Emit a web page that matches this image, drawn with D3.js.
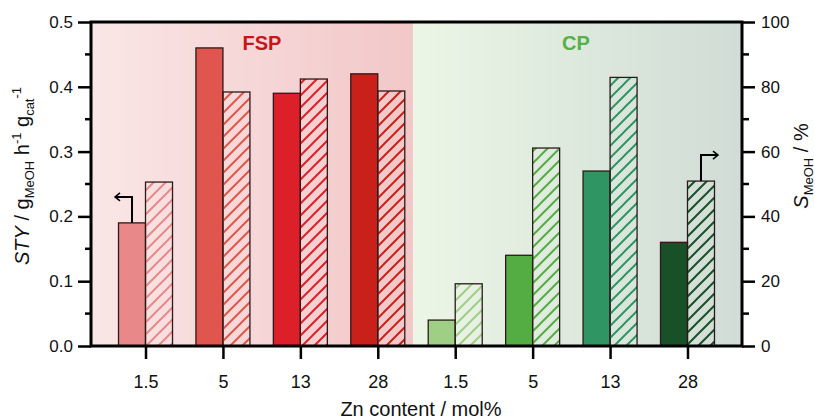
<!DOCTYPE html>
<html>
<head>
<meta charset="utf-8">
<script src="https://cdn.jsdelivr.net/npm/d3@7"></script>
<style>
html,body{margin:0;padding:0;background:#fff;}
svg{display:block;font-family:"Liberation Sans",Arial,sans-serif;}
</style>
</head>
<body>
<svg id="chart" width="815" height="419"></svg>
<script>
// ---- data ----
const znContent = ["1.5", "5", "13", "28"];
const methods = ["FSP", "CP"];
const styFSP = [0.19, 0.46, 0.39, 0.42];
const styCP = [0.04, 0.14, 0.27, 0.16];
const selFSP = [50.6, 78.4, 82.4, 78.7];
const selCP = [19.2, 61.1, 82.9, 50.9];
const colorsFSP = ["#e88888", "#e0554d", "#dd1f29", "#c92119"];
const colorsCP = ["#9ecf85", "#53ad42", "#2f9663", "#185128"];
const leftTicks = [0, 0.1, 0.2, 0.3, 0.4, 0.5];
const rightTicks = [0, 20, 40, 60, 80, 100];

// ---- layout ----
const L = 91, R = 742, T = 22, B = 346;
const svg = d3.select("#chart");

const cats = [];
methods.forEach(m => znContent.forEach((z, i) => cats.push({
  key: m + "-" + z, method: m, zn: z, i,
  sty: m === "FSP" ? styFSP[i] : styCP[i],
  sel: m === "FSP" ? selFSP[i] : selCP[i],
  color: m === "FSP" ? colorsFSP[i] : colorsCP[i]
})));

const x = d3.scalePoint().domain(cats.map(d => d.key)).range([L, R]).padding(0.704);
const yL = d3.scaleLinear().domain([0, 0.5]).range([B, T]);
const yR = d3.scaleLinear().domain([0, 100]).range([B, T]);
const bw = 27;

const defs = svg.append("defs");
const gF = defs.append("linearGradient").attr("id", "bgF").attr("x1", "0").attr("x2", "1").attr("y1", "0").attr("y2", "0");
gF.append("stop").attr("offset", "0").attr("stop-color", "#fae6e6");
gF.append("stop").attr("offset", "1").attr("stop-color", "#f2c7c8");
const gC = defs.append("linearGradient").attr("id", "bgC").attr("x1", "0").attr("x2", "1").attr("y1", "0").attr("y2", "0");
gC.append("stop").attr("offset", "0").attr("stop-color", "#ebf6e6");
gC.append("stop").attr("offset", "1").attr("stop-color", "#d0dcd5");

cats.forEach((d, k) => {
  const p = defs.append("pattern").attr("id", "hatch" + k)
    .attr("patternUnits", "userSpaceOnUse").attr("width", 12).attr("height", 12);
  p.append("path").attr("d", "M-3,3 L3,-3 M0,12 L12,0 M9,15 L15,9")
    .attr("stroke", d.color).attr("stroke-width", 2).attr("fill", "none");
});

const split = 413;
svg.append("rect").attr("x", L).attr("y", T).attr("width", split - L).attr("height", B - T).attr("fill", "url(#bgF)");
svg.append("rect").attr("x", split).attr("y", T).attr("width", R - split).attr("height", B - T).attr("fill", "url(#bgC)");

// bars
const bars = svg.append("g");
bars.selectAll("rect.sty").data(cats).join("rect").attr("class", "sty")
  .attr("x", d => x(d.key) - bw).attr("width", bw)
  .attr("y", d => yL(d.sty)).attr("height", d => B - yL(d.sty))
  .attr("fill", d => d.color).attr("stroke", "#2a1a1a").attr("stroke-width", 1.3);
bars.selectAll("rect.sel").data(cats).join("rect").attr("class", "sel")
  .attr("x", d => x(d.key)).attr("width", bw)
  .attr("y", d => yR(d.sel)).attr("height", d => B - yR(d.sel))
  .attr("fill", (d, k) => "url(#hatch" + k + ")").attr("stroke", "#2a1a1a").attr("stroke-width", 1.3);

// arrows
function arrow(x0, y0, dir) {
  const yTop = y0 - 26, xEnd = x0 + dir * 17;
  svg.append("path").attr("d", `M${x0},${y0} V${yTop} H${xEnd}`)
    .attr("fill", "none").attr("stroke", "#000").attr("stroke-width", 2);
  svg.append("path").attr("d", `M${xEnd - dir * 5},${yTop - 4} L${xEnd},${yTop} L${xEnd - dir * 5},${yTop + 4}`)
    .attr("fill", "none").attr("stroke", "#000").attr("stroke-width", 1.5);
}
const a1 = cats[0];
arrow(x(a1.key) - bw / 2, yL(a1.sty), -1);
const a2 = cats[7];
arrow(x(a2.key) + bw / 2, yR(a2.sel), 1);

// group labels
svg.append("text").attr("x", 262).attr("y", 50).attr("text-anchor", "middle")
  .attr("font-size", 20).attr("font-weight", "bold").attr("fill", "#c8151c").text("FSP");
svg.append("text").attr("x", 576).attr("y", 50).attr("text-anchor", "middle")
  .attr("font-size", 20).attr("font-weight", "bold").attr("fill", "#57b049").text("CP");

// axes
const axL = d3.axisLeft(yL).tickValues(leftTicks).tickFormat(d3.format(".1f")).tickSize(13).tickPadding(5);
const gl = svg.append("g").attr("transform", `translate(${L},0)`).call(axL);
const axR = d3.axisRight(yR).tickValues(rightTicks).tickSize(13).tickPadding(6);
const gr = svg.append("g").attr("transform", `translate(${R},0)`).call(axR);
const axB = d3.axisBottom(x).tickFormat(k => k.split("-")[1]).tickSize(13).tickPadding(16);
const gb = svg.append("g").attr("transform", `translate(0,${B})`).call(axB);

// minor ticks
const minorL = d3.range(0.05, 0.5, 0.1);
gl.selectAll("line.minor").data(minorL).join("line").attr("class", "minor")
  .attr("x1", -6).attr("x2", 0).attr("y1", d => yL(d)).attr("y2", d => yL(d));
const minorR = d3.range(10, 100, 20);
gr.selectAll("line.minor").data(minorR).join("line").attr("class", "minor")
  .attr("x1", 0).attr("x2", 7).attr("y1", d => yR(d)).attr("y2", d => yR(d));

[gl, gr, gb].forEach(g => {
  g.select(".domain").remove();
  g.selectAll("line").attr("stroke", "#000").attr("stroke-width", 2.5);
  g.selectAll("text").attr("font-size", 17).attr("fill", "#111")
    .attr("font-family", "'Liberation Sans', Arial, sans-serif");
});
gb.selectAll("text").attr("font-size", 18);

// frame
svg.append("rect").attr("x", L).attr("y", T).attr("width", R - L).attr("height", B - T)
  .attr("fill", "none").attr("stroke", "#000").attr("stroke-width", 3);

// axis titles
const tl = svg.append("text").attr("transform", "translate(29,176) rotate(-90)")
  .attr("text-anchor", "middle").attr("font-size", 20).attr("fill", "#111");
tl.append("tspan").attr("font-style", "italic").text("STY");
tl.append("tspan").text(" / g");
tl.append("tspan").attr("font-size", 13).attr("dy", 5).text("MeOH");
tl.append("tspan").attr("dy", -5).text(" h");
tl.append("tspan").attr("font-size", 13).attr("dy", -8).text("-1");
tl.append("tspan").attr("dy", 8).text(" g");
tl.append("tspan").attr("font-size", 13).attr("dy", 5).text("cat");
tl.append("tspan").attr("font-size", 13).attr("dy", -13).text("-1");

const tr = svg.append("text").attr("transform", "translate(808,166) rotate(-90)")
  .attr("text-anchor", "middle").attr("font-size", 20).attr("fill", "#111");
tr.append("tspan").attr("font-style", "italic").text("S");
tr.append("tspan").attr("font-size", 13).attr("dy", 5).text("MeOH");
tr.append("tspan").attr("dy", -5).text(" / %");

svg.append("text").attr("x", 421).attr("y", 416).attr("text-anchor", "middle")
  .attr("font-size", 20).attr("fill", "#111").text("Zn content / mol%");
</script>
</body>
</html>
